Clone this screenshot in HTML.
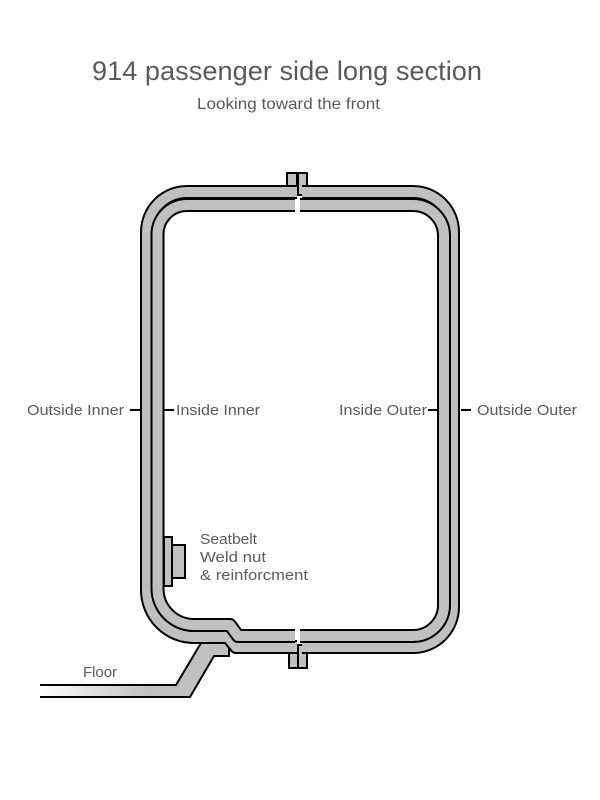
<!DOCTYPE html>
<html><head><meta charset="utf-8"><style>html,body{margin:0;padding:0;background:#fff}svg{display:block}text{font-family:"Liberation Sans Narrow","Liberation Sans",sans-serif;fill:#5a5a5a}</style></head><body>
<svg width="600" height="800" viewBox="0 0 600 800" xmlns="http://www.w3.org/2000/svg">
<defs><linearGradient id="fl" gradientUnits="userSpaceOnUse" x1="40" x2="150" y1="0" y2="0"><stop offset="0" stop-color="#ffffff"/><stop offset="1" stop-color="#c0c0c0"/></linearGradient></defs>
<text x="92" y="80" font-size="27" textLength="390" lengthAdjust="spacingAndGlyphs">914 passenger side long section</text>
<text x="197" y="109" font-size="16" textLength="183" lengthAdjust="spacingAndGlyphs">Looking toward the front</text>
<path d="M40 685 H176 L201 643 H229 V656 H214 L190 697 H40 Z" fill="url(#fl)" stroke="none"/>
<path d="M40 685 H176 L201 643 H229 V656 H214 L190 697 H40" fill="none" stroke="#000" stroke-width="2"/>
<g fill="#c0c0c0" stroke="#000" stroke-width="2">
<rect x="287" y="173" width="10" height="22"/><rect x="298" y="173" width="9" height="22"/>
<rect x="289" y="645" width="9" height="23"/><rect x="298" y="645" width="9" height="23"/>
</g>
<g fill="none" stroke-linejoin="round">
<path stroke="#000" stroke-width="14" d="M297 192 H187 A40 40 0 0 0 147 232 V590 A47 47 0 0 0 194 637 H228 L236 647 H297"/>
<path stroke="#c0c0c0" stroke-width="10" d="M297 192 H187 A40 40 0 0 0 147 232 V590 A47 47 0 0 0 194 637 H228 L236 647 H297"/>
<path stroke="#000" stroke-width="14" d="M302 192 H413 A40 40 0 0 1 453 232 V607 A40 40 0 0 1 413 647 H302"/>
<path stroke="#c0c0c0" stroke-width="10" d="M302 192 H413 A40 40 0 0 1 453 232 V607 A40 40 0 0 1 413 647 H302"/>
<path stroke="#000" stroke-width="14" d="M295 205 H187 A29.5 29.5 0 0 0 157.5 236 V588.5 A36.5 36.5 0 0 0 194 625 H230 L238 636 H295"/>
<path stroke="#c0c0c0" stroke-width="10" d="M295 205 H187 A29.5 29.5 0 0 0 157.5 236 V588.5 A36.5 36.5 0 0 0 194 625 H230 L238 636 H295"/>
<path stroke="#000" stroke-width="14" d="M300 205 H413 A31 31 0 0 1 444 236 V605 A31 31 0 0 1 413 636 H300"/>
<path stroke="#c0c0c0" stroke-width="10" d="M300 205 H413 A31 31 0 0 1 444 236 V605 A31 31 0 0 1 413 636 H300"/>
</g>
<g fill="#c0c0c0" stroke="#000" stroke-width="2">
<rect x="164" y="537" width="8" height="49"/><rect x="172" y="545" width="13" height="33"/>
</g>
<g stroke="#000" stroke-width="2">
<line x1="130" y1="410" x2="140" y2="410"/><line x1="164" y1="410" x2="174" y2="410"/>
<line x1="428" y1="410" x2="438" y2="410"/><line x1="461" y1="410" x2="471" y2="410"/>
</g>
<g font-size="15">
<text x="27" y="415" textLength="97" lengthAdjust="spacingAndGlyphs">Outside Inner</text>
<text x="176" y="415" textLength="84" lengthAdjust="spacingAndGlyphs">Inside Inner</text>
<text x="339" y="415" textLength="88" lengthAdjust="spacingAndGlyphs">Inside Outer</text>
<text x="477" y="415" textLength="100" lengthAdjust="spacingAndGlyphs">Outside Outer</text>
<text x="200" y="544" textLength="57" lengthAdjust="spacingAndGlyphs">Seatbelt</text>
<text x="200" y="562" textLength="66" lengthAdjust="spacingAndGlyphs">Weld nut</text>
<text x="200" y="580" textLength="108" lengthAdjust="spacingAndGlyphs">&amp; reinforcment</text>
<text x="83" y="677" textLength="34" lengthAdjust="spacingAndGlyphs">Floor</text>
</g>
</svg>
</body></html>
